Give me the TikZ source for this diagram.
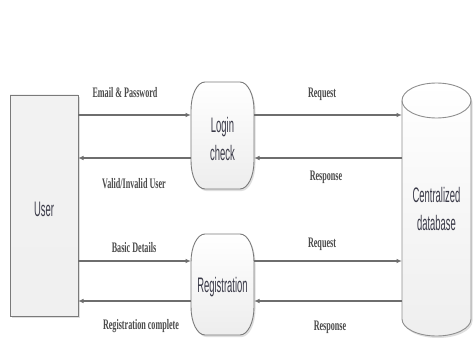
\documentclass[tikz,border=0pt]{standalone}
\usepackage{fontspec}
\newfontfamily\shapefont[FakeStretch=0.45]{Liberation Sans}
\newfontfamily\lblfont[FakeStretch=0.56]{Liberation Serif}
\usetikzlibrary{arrows.meta,shadows}
\definecolor{edgegray}{HTML}{7A7A7A}
\definecolor{linegray}{HTML}{6E6E6E}
\definecolor{txtdark}{HTML}{3A3A48}
\definecolor{lbldark}{HTML}{4A4A4A}
\tikzset{
  x=1pt, y=1pt,
  holder/.style={draw=none, inner sep=0pt, outer sep=0pt},
  shapetext/.style={text=txtdark, font=\shapefont\fontsize{21}{28}\selectfont, align=center},
  outline/.style={draw=edgegray, line width=0.9pt, top color=white, bottom color=gray!14,
    drop shadow={shadow xshift=1.5pt, shadow yshift=-2pt, opacity=0.25}},
  flow/.style={draw=linegray, line width=1.4pt, -{Latex[length=5.5pt,width=4.5pt]}},
  lbl/.style={text=lbldark, font=\lblfont\bfseries\fontsize{14.5}{16}\selectfont, anchor=base, inner sep=0pt},
}
\begin{document}
\begin{tikzpicture}
\useasboundingbox[fill=white] (0,0) rectangle (474,338);

% placeholders
\node[holder, minimum width=68pt, minimum height=221pt] (user) at (44,132.5) {};
\node[holder, minimum width=63pt, minimum height=107pt] (login) at (222.5,202.5) {};
\node[holder, minimum width=63pt, minimum height=101pt] (reg) at (222.5,53.5) {};
\node[holder, minimum width=69pt, minimum height=253pt] (db) at (436.5,128.5) {};

% User box
\path[outline, top color=gray!10, bottom color=gray!12] (user.south west) rectangle (user.north east);

% Login check
\path[outline] ([xshift=14pt]login.north west) -- ([xshift=-14pt]login.north east)
  arc[start angle=90, end angle=0, x radius=14pt, y radius=28pt]
  -- ([yshift=28pt]login.south east)
  arc[start angle=0, end angle=-90, x radius=14pt, y radius=28pt]
  -- ([xshift=14pt]login.south west)
  arc[start angle=270, end angle=180, x radius=14pt, y radius=28pt]
  -- ([yshift=-28pt]login.north west)
  arc[start angle=180, end angle=90, x radius=14pt, y radius=28pt] -- cycle;

% Registration
\path[outline] ([xshift=14pt]reg.north west) -- ([xshift=-14pt]reg.north east)
  arc[start angle=90, end angle=0, x radius=14pt, y radius=28pt]
  -- ([yshift=28pt]reg.south east)
  arc[start angle=0, end angle=-90, x radius=14pt, y radius=28pt]
  -- ([xshift=14pt]reg.south west)
  arc[start angle=270, end angle=180, x radius=14pt, y radius=28pt]
  -- ([yshift=-28pt]reg.north west)
  arc[start angle=180, end angle=90, x radius=14pt, y radius=28pt] -- cycle;

% Cylinder
\path[outline, draw=edgegray!85, top color=white, bottom color=gray!13]
  ([yshift=-17.5pt]db.north west) -- ([yshift=17pt]db.south west)
  arc[start angle=180, end angle=360, x radius=34.5pt, y radius=17pt]
  -- ([yshift=-17.5pt]db.north east)
  arc[start angle=0, end angle=180, x radius=34.5pt, y radius=17.5pt] -- cycle;
\draw[draw=edgegray!85, line width=0.9pt] ([yshift=-17.5pt]db.north west)
  arc[start angle=180, end angle=360, x radius=34.5pt, y radius=17.5pt];

% texts in shapes
\node[shapetext] (usertext) at ([yshift=-4pt]user.center) {User};
\node[shapetext] (logintext) at ([yshift=-3pt]login.center) {Login\\check};
\node[shapetext] (regtext) at ([yshift=-3pt]reg.center) {Registration};
\node[shapetext] (dbtext) at ([yshift=1pt]db.center) {Centralized\\database};

% connector anchor points
\coordinate (l1) at ([yshift=20.5pt]login.west);
\coordinate (l2) at ([yshift=-22.5pt]login.west);
\coordinate (r1) at ([yshift=20.5pt]login.east);
\coordinate (r2) at ([yshift=-22.5pt]login.east);
\coordinate (g1) at ([yshift=23.5pt]reg.west);
\coordinate (g2) at ([yshift=-16.5pt]reg.west);
\coordinate (h1) at ([yshift=23.5pt]reg.east);
\coordinate (h2) at ([yshift=-16.5pt]reg.east);

\draw[flow] (user.east |- l1) -- (l1);
\draw[flow] (l2) -- (user.east |- l2);
\draw[flow] (r1) -- (db.west |- r1);
\draw[flow] (db.west |- r2) -- (r2);
\draw[flow] (user.east |- g1) -- (g1);
\draw[flow] (g2) -- (user.east |- g2);
\draw[flow] (h1) -- (db.west |- h1);
\draw[flow] (db.west |- h2) -- (h2);

% labels
\node[lbl] (la) at (125,240) {Email \& Password};
\node[lbl] (lb) at (134,150) {Valid/Invalid User};
\node[lbl] (lc) at (322,240) {Request};
\node[lbl] (ld) at (326,158) {Response};
\node[lbl] (le) at (134,86) {Basic Details};
\node[lbl] (lf) at (141,9) {Registration complete};
\node[lbl] (lg) at (322,91) {Request};
\node[lbl] (lh) at (330,8) {Response};
\end{tikzpicture}
\end{document}
